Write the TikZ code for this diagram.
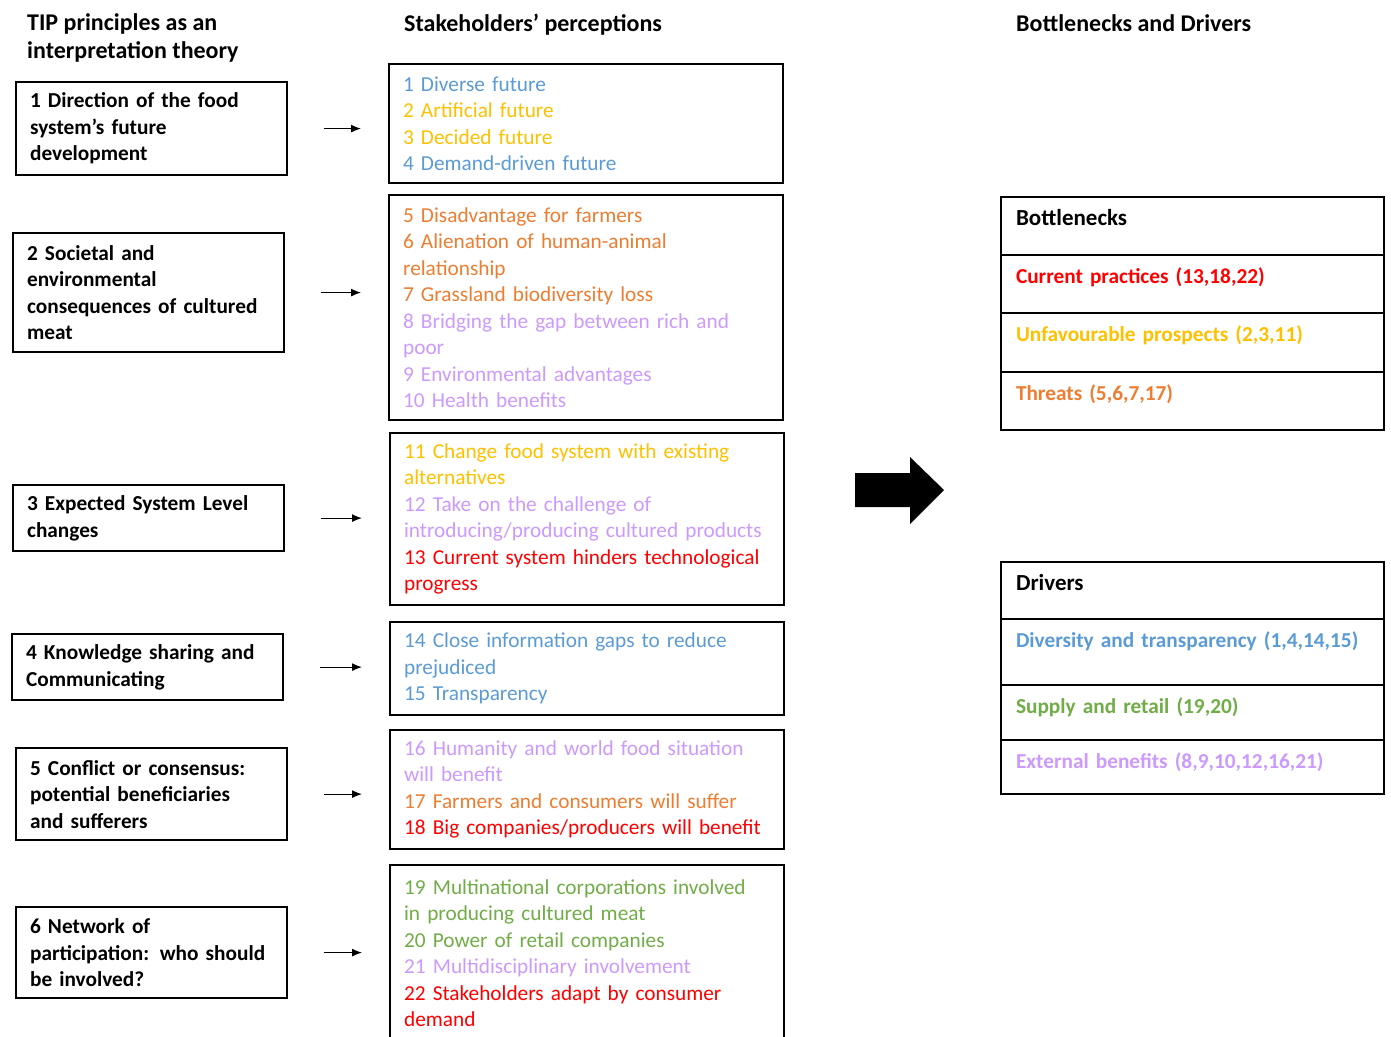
\documentclass[tikz,border=0pt]{standalone}
\usepackage{fontspec}
\setmainfont{Carlito}
\usetikzlibrary{positioning}
\usetikzlibrary{arrows.meta}

\definecolor{tipblue}{HTML}{5B9BD5}
\definecolor{tipgold}{HTML}{FFC000}
\definecolor{tiporange}{HTML}{ED7D31}
\definecolor{tiplilac}{HTML}{CC99FF}
\definecolor{tipgreen}{HTML}{70AD47}
\definecolor{tipred}{HTML}{FF0000}

\hyphenpenalty=10000
\exhyphenpenalty=10000

\tikzset{
  heading/.style={font=\fontsize{24}{28}\selectfont\bfseries, inner sep=0pt, align=left},
  tipbox/.style={draw, line width=2.2pt, anchor=north west, align=left, inner xsep=14pt,
    text width=243pt, font=\fontsize{21.3}{26.5}\selectfont\bfseries},
  viewbox/.style={draw, line width=2.2pt, anchor=north west, align=left, inner xsep=14pt,
    text width=366pt, font=\fontsize{21.3}{26.5}\selectfont},
  tabrow/.style={draw, line width=1.6pt, outer sep=0pt, align=left, inner xsep=15pt,
    inner ysep=12pt, text width=353pt, text height=16pt, font=\fontsize{21.3}{26.5}\selectfont\bfseries},
  smallarr/.style={-{Latex[length=10pt,width=8pt]}, line width=1.2pt, shorten <=36pt, shorten >=27pt},
}

\begin{document}
\begin{tikzpicture}[x=1pt, y=-1pt]
  \useasboundingbox (0,0) rectangle (1391,1036);

  % Headings
  \node[heading, anchor=north west] (h1) at (27,13) {TIP principles as an\\interpretation theory};
  \node[heading, anchor=base west] (h2) at (404,31) {Stakeholders’ perceptions};
  \node[heading, anchor=base west] (h3) at (1016,31) {Bottlenecks and Drivers};

  % TIP principles
  \node[tipbox, minimum height=93pt] (t1) at (15,81) {1 Direction of the food\\system’s future\\development};
  \node[tipbox, minimum height=119pt] (t2) at (12,232) {2 Societal and\\environmental\\consequences of cultured\\meat};
  \node[tipbox, minimum height=66pt] (t3) at (12,484) {3 Expected System Level\\changes};
  \node[tipbox, minimum height=66pt] (t4) at (11,633) {4 Knowledge sharing and\\Communicating};
  \node[tipbox, minimum height=92pt] (t5) at (15,747) {5 Conflict or consensus:\\potential beneficiaries\\and sufferers};
  \node[tipbox, minimum height=91pt] (t6) at (15,906) {6 Network of\\participation: who should\\be involved?};

  % Stakeholders' perceptions
  \node[viewbox, minimum height=119pt] (p1) at (388,63) {%
    \textcolor{tipblue}{1 Diverse future}\\
    \textcolor{tipgold}{2 Artificial future}\\
    \textcolor{tipgold}{3 Decided future}\\
    \textcolor{tipblue}{4 Demand-driven future}};
  \node[viewbox, minimum height=225pt] (p2) at (388,194) {%
    \textcolor{tiporange}{5 Disadvantage for farmers}\\
    \textcolor{tiporange}{6 Alienation of human-animal}\\
    \textcolor{tiporange}{relationship}\\
    \textcolor{tiporange}{7 Grassland biodiversity loss}\\
    \textcolor{tiplilac}{8 Bridging the gap between rich and}\\
    \textcolor{tiplilac}{poor}\\
    \textcolor{tiplilac}{9 Environmental advantages}\\
    \textcolor{tiplilac}{10 Health benefits}};
  \node[viewbox, minimum height=172pt] (p3) at (389,432) {%
    \textcolor{tipgold}{11 Change food system with existing}\\
    \textcolor{tipgold}{alternatives}\\
    \textcolor{tiplilac}{12 Take on the challenge of}\\
    \textcolor{tiplilac}{introducing/producing cultured products}\\
    \textcolor{tipred}{13 Current system hinders technological}\\
    \textcolor{tipred}{progress}};
  \node[viewbox, minimum height=93pt] (p4) at (389,621) {%
    \textcolor{tipblue}{14 Close information gaps to reduce}\\
    \textcolor{tipblue}{prejudiced}\\
    \textcolor{tipblue}{15 Transparency}};
  \node[viewbox, minimum height=119pt] (p5) at (389,729) {%
    \textcolor{tiplilac}{16 Humanity and world food situation}\\
    \textcolor{tiplilac}{will benefit}\\
    \textcolor{tiporange}{17 Farmers and consumers will suffer}\\
    \textcolor{tipred}{18 Big companies/producers will benefit}};
  \node[viewbox, minimum height=176pt] (p6) at (389,864) {%
    \textcolor{tipgreen}{19 Multinational corporations involved}\\
    \textcolor{tipgreen}{in producing cultured meat}\\
    \textcolor{tipgreen}{20 Power of retail companies}\\
    \textcolor{tiplilac}{21 Multidisciplinary involvement}\\
    \textcolor{tipred}{22 Stakeholders adapt by consumer}\\
    \textcolor{tipred}{demand}};

  % Small arrows
  \foreach \i in {1,...,6}
    \draw[smallarr] (t\i.east) -- (t\i.east -| p\i.west);

  % Big arrow
  \fill (855,473) -- (910,473) -- (910,457) -- (944,490) -- (910,524) -- (910,507) -- (855,507) -- cycle;

  % Bottlenecks
  \node[tabrow, anchor=north west, text depth=18pt, font=\fontsize{23}{26.5}\selectfont\bfseries] (b0) at (1001,197) {Bottlenecks};
  \node[tabrow, below=0pt of b0, text depth=18pt, text=tipred] (b1) {Current practices (13,18,22)};
  \node[tabrow, below=0pt of b1, text depth=19pt, text=tipgold] (b2) {Unfavourable prospects (2,3,11)};
  \node[tabrow, below=0pt of b2, text depth=18pt, text=tiporange] (b3) {Threats (5,6,7,17)};

  % Drivers
  \node[tabrow, anchor=north west, text depth=17pt, font=\fontsize{23}{26.5}\selectfont\bfseries] (d0) at (1001,562) {Drivers};
  \node[tabrow, below=0pt of d0, text depth=26pt, text=tipblue] (d1) {Diversity and transparency (1,4,14,15)};
  \node[tabrow, below=0pt of d1, text depth=15pt, text=tipgreen] (d2) {Supply and retail (19,20)};
  \node[tabrow, below=0pt of d2, text depth=14pt, text=tiplilac] (d3) {External benefits (8,9,10,12,16,21)};
\end{tikzpicture}
\end{document}
